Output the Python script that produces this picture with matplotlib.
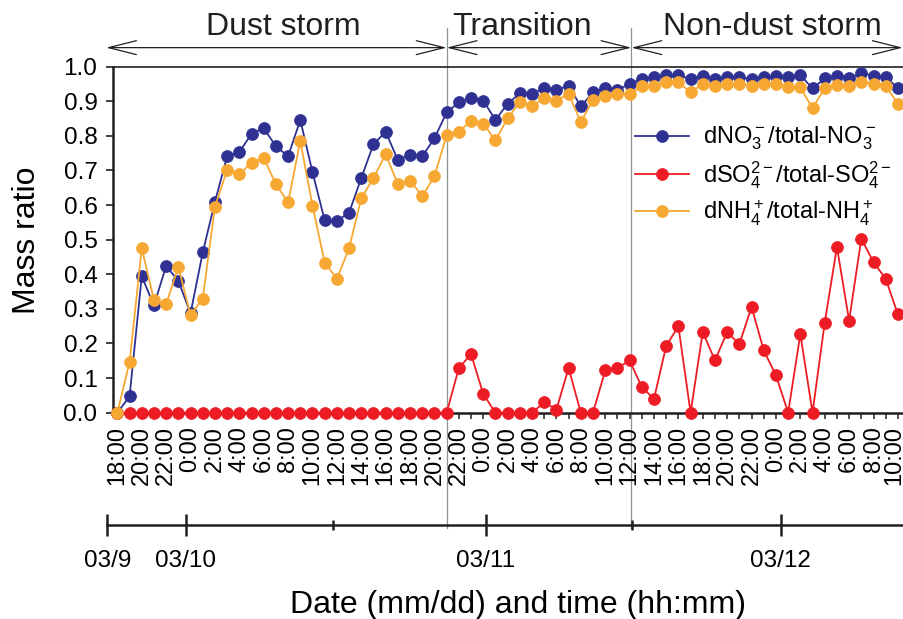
import matplotlib
matplotlib.use("Agg")
import matplotlib.pyplot as plt
import matplotlib.transforms as mtransforms
from matplotlib.patches import FancyArrowPatch

plt.rcParams["font.family"] = ["Liberation Sans", "DejaVu Sans"]
plt.rcParams["mathtext.fontset"] = "custom"
plt.rcParams["mathtext.rm"] = "Liberation Sans"
plt.rcParams["mathtext.it"] = "Liberation Sans:italic"
plt.rcParams["mathtext.bf"] = "Liberation Sans:bold"

# ---- DATA ----
# hours since 03/9 18:00, one sample per hour
HOURS = list(range(65))

TIME_LABELS = [
    "18:00", "20:00", "22:00",
    "0:00", "2:00", "4:00", "6:00", "8:00", "10:00",
    "12:00", "14:00", "16:00", "18:00", "20:00", "22:00",
    "0:00", "2:00", "4:00", "6:00", "8:00", "10:00",
    "12:00", "14:00", "16:00", "18:00", "20:00", "22:00",
    "0:00", "2:00", "4:00", "6:00", "8:00", "10:00",
]

NO3 = [
    0.000, 0.047, 0.394, 0.310, 0.424, 0.381, 0.287, 0.463, 0.609, 0.741,
    0.753, 0.806, 0.822, 0.770, 0.741, 0.846, 0.695, 0.556, 0.554, 0.578,
    0.678, 0.776, 0.812, 0.730, 0.746, 0.741, 0.793, 0.868, 0.897, 0.910,
    0.902, 0.846, 0.893, 0.923, 0.921, 0.939, 0.933, 0.945, 0.885, 0.926,
    0.939, 0.933, 0.950, 0.965, 0.969, 0.977, 0.977, 0.963, 0.974, 0.965,
    0.969, 0.969, 0.965, 0.969, 0.974, 0.969, 0.976, 0.937, 0.966, 0.974,
    0.966, 0.982, 0.974, 0.969, 0.939,
]

SO4 = [
    0.000, 0.000, 0.000, 0.000, 0.000, 0.000, 0.000, 0.000, 0.000, 0.000,
    0.000, 0.000, 0.000, 0.000, 0.000, 0.000, 0.000, 0.000, 0.000, 0.000,
    0.000, 0.000, 0.000, 0.000, 0.000, 0.000, 0.000, 0.000, 0.129, 0.169,
    0.054, 0.000, 0.000, 0.000, 0.000, 0.030, 0.009, 0.129, 0.000, 0.000,
    0.122, 0.129, 0.151, 0.074, 0.040, 0.193, 0.250, 0.000, 0.233, 0.151,
    0.233, 0.198, 0.306, 0.180, 0.108, 0.000, 0.227, 0.000, 0.260, 0.479,
    0.266, 0.503, 0.435, 0.387, 0.284,
]

NH4 = [
    0.000, 0.146, 0.475, 0.326, 0.313, 0.422, 0.282, 0.330, 0.595, 0.702,
    0.689, 0.722, 0.736, 0.660, 0.608, 0.785, 0.598, 0.434, 0.387, 0.475,
    0.620, 0.678, 0.747, 0.660, 0.671, 0.626, 0.683, 0.803, 0.812, 0.844,
    0.835, 0.787, 0.851, 0.897, 0.886, 0.909, 0.902, 0.921, 0.840, 0.904,
    0.915, 0.921, 0.921, 0.943, 0.943, 0.957, 0.955, 0.926, 0.950, 0.945,
    0.950, 0.950, 0.945, 0.950, 0.950, 0.940, 0.940, 0.880, 0.938, 0.947,
    0.943, 0.957, 0.950, 0.945, 0.893,
]

SERIES_LABELS = [
    r"dNO$_3^-$/total-NO$_3^-$",
    r"dSO$_4^{2-}$/total-SO$_4^{2-}$",
    r"dNH$_4^+$/total-NH$_4^+$",
]

PERIODS = ["Dust storm", "Transition", "Non-dust storm"]
DATES = ["03/9", "03/10", "03/11", "03/12"]

# ---- LAYOUT ----
BLUE = "#2e3192"
RED = "#ed1c24"
ORANGE = "#f7a833"
INK = "#231f20"
GRID_GREY = "#8a9595"

PERIOD_EDGES = [-0.93, 27.0, 42.15, 64.4]
PERIOD_TEXT_X = [13.6, 33.2, 53.7]
DATE_POS = [-0.82, 5.6, 30.2, 54.4]
NOON_POS = [17.66, 42.16]

PX_PER_HOUR = 12.196
X0 = -0.38

fig = plt.figure(figsize=(9.04, 6.19), dpi=100)
ax = fig.add_axes([0.1247, 0.3333, 0.8753, 0.559])

for vals, col, lab in zip([NO3, SO4, NH4], [BLUE, RED, ORANGE], SERIES_LABELS):
    ax.plot(HOURS, vals, "-o", color=col, lw=1.3, ms=8.6, mec=col, mew=0.5,
            label=lab, clip_on=False, zorder=3)

ax.set_xlim(X0, 64.5)
ax.set_ylim(0, 1)
ax.set_yticks([i / 10 for i in range(11)])
ax.set_yticklabels([f"{i / 10:.1f}" for i in range(11)])
ax.set_xticks(HOURS[::2])
ax.set_xticklabels(TIME_LABELS, rotation=90)
ax.set_xticks(HOURS[1::2], minor=True)

ax.tick_params(axis="x", which="both", direction="out", length=4.5, width=1.1,
               color=INK, labelsize=17, pad=5)
ax.tick_params(axis="y", direction="out", length=5, width=1.2, color=INK,
               labelsize=17.5, pad=6)

# last time label sits on the figure edge: nudge it inside a little
last = ax.get_xticklabels()[-1]
last.set_transform(last.get_transform() +
                   mtransforms.ScaledTranslation(-4 / 100, 0, fig.dpi_scale_trans))

ax.spines["right"].set_visible(False)
ax.spines["left"].set_linewidth(1.8)
ax.spines["bottom"].set_linewidth(1.8)
ax.spines["top"].set_linewidth(1.2)
for s in ["left", "bottom", "top"]:
    ax.spines[s].set_color(INK)

ax.set_ylabel("Mass ratio", fontsize=23)
ax.yaxis.set_label_coords(42 / 904, 1 - 240 / 619, transform=fig.transFigure)

# period separators and arrows
trans = mtransforms.blended_transform_factory(ax.transData, ax.transAxes)
for x in PERIOD_EDGES[1:3]:
    ax.plot([x, x], [-0.333, 1.112], transform=trans, color=GRID_GREY,
            lw=0.9, clip_on=False, zorder=1)

for a, b in zip(PERIOD_EDGES[:-1], PERIOD_EDGES[1:]):
    arr = FancyArrowPatch((a, 1.055), (b, 1.055), transform=trans,
                          arrowstyle="<->,head_length=20,head_width=5",
                          mutation_scale=1, lw=0.9, color=INK,
                          shrinkA=0, shrinkB=0, clip_on=False)
    ax.add_patch(arr)

for x, name in zip(PERIOD_TEXT_X, PERIODS):
    ax.text(x, 1.0916, name, transform=trans, ha="center", va="baseline",
            fontsize=23, color=INK)

ax.legend(loc="upper left", bbox_to_anchor=(635 / 904, 1 - 125 / 619),
          bbox_transform=fig.transFigure, frameon=False, fontsize=17,
          handlelength=2.3, handletextpad=0.6, labelspacing=0.3,
          borderpad=0, borderaxespad=0)

# date axis underneath, a bit wider on the left so the 03/9 tick shows
pad_px = 12.7
ax2 = fig.add_axes([(112.7 - pad_px) / 904, 1 - 525 / 619,
                    (904 - 112.7 + pad_px) / 904, 0.0001])
ax2.set_xlim(X0 - pad_px / PX_PER_HOUR, 64.5)
ax2.patch.set_visible(False)
ax2.yaxis.set_visible(False)
for s in ["top", "left", "right"]:
    ax2.spines[s].set_visible(False)
ax2.spines["bottom"].set_linewidth(1.8)
ax2.spines["bottom"].set_color(INK)
ax2.spines["bottom"].set_bounds(DATE_POS[0], 64.5)
ax2.set_xticks(DATE_POS)
ax2.set_xticklabels(DATES)
ax2.set_xticks(NOON_POS, minor=True)
ax2.tick_params(axis="x", which="major", direction="inout", length=16,
                width=1.8, color=INK, labelsize=17.5, pad=10)
ax2.tick_params(axis="x", which="minor", direction="inout", length=6.5,
                width=1.8, color=INK)
ax2.set_xlabel("Date (mm/dd) and time (hh:mm)", fontsize=23)
ax2.xaxis.set_label_coords(518 / 904, 1 - 590 / 619, transform=fig.transFigure)

fig.savefig("out.png", dpi=100)
